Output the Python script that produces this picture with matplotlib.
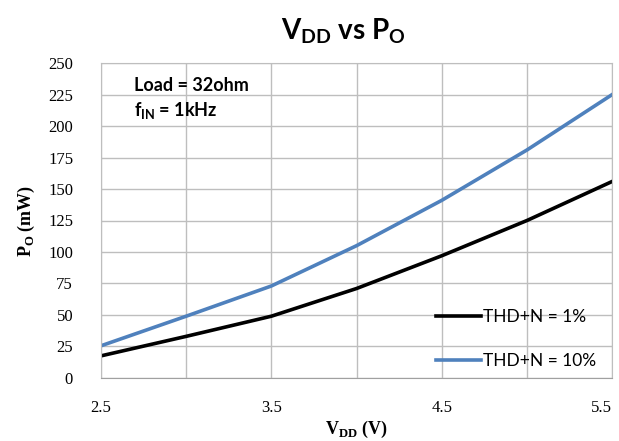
import numpy as np
import matplotlib.pyplot as plt

# data
vdd = [2.5, 3.0, 3.5, 4.0, 4.5, 5.0, 5.5]
po_1pct = [17.5, 33, 49, 71, 97, 125, 156]
po_10pct = [25.5, 49, 73, 105, 141, 181, 225]

xticks = [2.5, 3.5, 4.5, 5.5]
yticks = np.arange(0, 251, 25)

fig = plt.figure(figsize=(6.19, 4.41), dpi=100)
ax = fig.add_axes([0.163, 0.143, 0.826, 0.714])

ax.plot(vdd, po_1pct, color='black', lw=2.6, label='THD+N = 1%')
ax.plot(vdd, po_10pct, color='#4F81BD', lw=2.6, label='THD+N = 10%')

ax.set_xlim(2.5, 5.5)
ax.set_ylim(0, 250)
ax.set_xticks(xticks)
ax.set_xticks([3.0, 4.0, 5.0], minor=True)
ax.set_yticks(yticks)
ax.grid(True, which='both', color='#BEBEBE', lw=1)
ax.tick_params(which='both', length=0)
ax.tick_params(axis='x', pad=16)
ax.tick_params(axis='y', pad=20)
for lab in ax.get_xticklabels() + ax.get_yticklabels():
    lab.set_fontfamily('Liberation Serif')
    lab.set_fontsize(12)
ax.get_xticklabels()[-1].set_horizontalalignment('right')
for s in ax.spines.values():
    s.set_color('#BEBEBE')
ax.spines['bottom'].set_color('#A0A0A0')

ax.set_xlabel(r'V$_{\mathregular{DD}}$ (V)', fontfamily='Liberation Serif',
              fontsize=13, fontweight='bold', labelpad=2)
ax.set_ylabel(r'P$_{\mathregular{O}}$ (mW)', fontfamily='Liberation Serif',
              fontsize=13, fontweight='bold', labelpad=8)

fig.text(0.555, 0.93, r'V$_{\mathregular{DD}}$ vs P$_{\mathregular{O}}$',
         ha='center', va='center', fontsize=20, fontweight='bold',
         fontfamily='Lato')

ax.text(0.065, 0.93, 'Load = 32ohm', transform=ax.transAxes,
        fontsize=13, fontweight='bold', fontfamily='Lato', va='center')
ax.text(0.065, 0.85, r'f$_{\mathregular{IN}}$ = 1kHz', transform=ax.transAxes,
        fontsize=13, fontweight='bold', fontfamily='Lato', va='center')

leg = ax.legend(loc='lower right', frameon=False, handlelength=2.6,
                handletextpad=0.15, labelspacing=1.6,
                prop={'family': 'Lato', 'size': 12.5},
                bbox_to_anchor=(1.0, -0.02))

fig.savefig('out.png', dpi=100)
